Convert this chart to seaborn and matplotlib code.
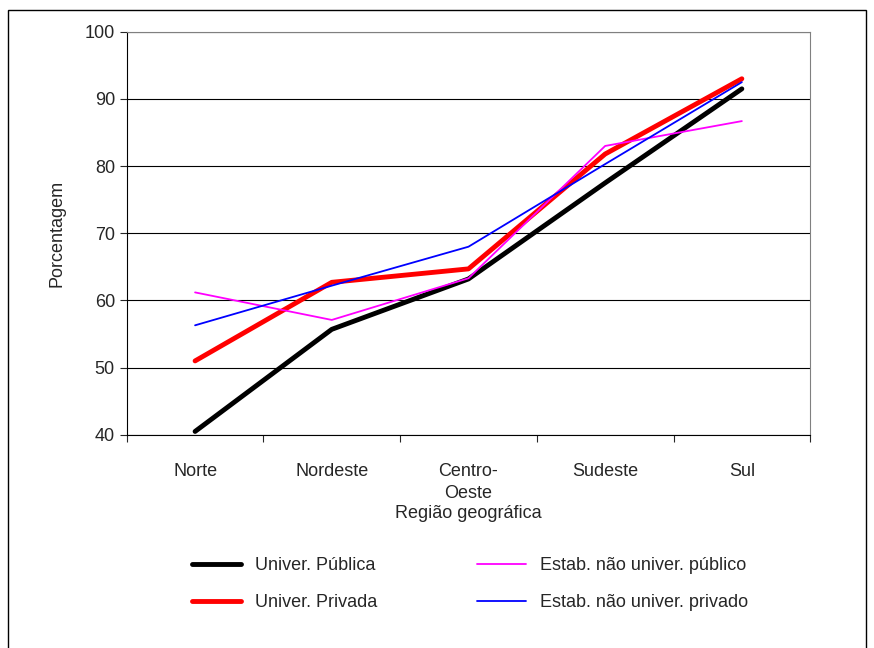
import numpy as np
import pandas as pd
import seaborn as sns
import matplotlib
matplotlib.use("Agg")
import matplotlib.pyplot as plt
from matplotlib.patches import Rectangle

regioes = ["Norte", "Nordeste", "Centro-\nOeste", "Sudeste", "Sul"]
univ_publica = [40.5, 55.7, 63.2, 77.5, 91.5]
univ_privada = [51.0, 62.7, 64.7, 81.8, 93.0]
estab_publico = [61.2, 57.1, 63.3, 83.0, 86.7]
estab_privado = [56.3, 62.2, 68.0, 80.3, 92.5]

series = {
    "Univer. Pública": univ_publica,
    "Univer. Privada": univ_privada,
    "Estab. não univer. público": estab_publico,
    "Estab. não univer. privado": estab_privado,
}
cores = {
    "Univer. Pública": "#000000",
    "Univer. Privada": "#ff0000",
    "Estab. não univer. público": "#ff00ff",
    "Estab. não univer. privado": "#0000ff",
}
larguras = {
    "Univer. Pública": 3.5,
    "Univer. Privada": 3.5,
    "Estab. não univer. público": 1.3,
    "Estab. não univer. privado": 1.3,
}

df = pd.DataFrame([
    {"x": i, "serie": nome, "valor": v}
    for nome, vals in series.items() for i, v in enumerate(vals)
])

sns.set_style("white")
plt.rcParams["font.family"] = ["Liberation Sans", "DejaVu Sans"]

fig = plt.figure(figsize=(8.74, 6.48), dpi=100)
ax = fig.add_axes([0.145, 0.329, 0.782, 0.622])

for nome in series:
    sub = df[df["serie"] == nome]
    sns.lineplot(data=sub, x="x", y="valor", ax=ax, color=cores[nome],
                 lw=larguras[nome], label=nome, legend=False)

ax.set_xlim(-0.5, 4.5)
ax.set_ylim(40, 100)
ax.set_yticks(range(40, 101, 10))
ax.yaxis.grid(True, color="black", lw=0.8)
ax.set_xticks(np.arange(-0.5, 4.6, 1))
ax.set_xticklabels([])
ax.set_xticks(range(5), minor=True)
ax.set_xticklabels(regioes, minor=True, fontsize=13, linespacing=1.4)
ax.tick_params(axis="x", which="minor", length=0, pad=20)
ax.tick_params(axis="x", which="major", length=5, direction="out", bottom=True)
ax.tick_params(axis="y", length=5, direction="out", left=True, labelsize=13)
for s in ax.spines.values():
    s.set_color("#808080")
ax.spines["left"].set_color("black")
ax.spines["bottom"].set_color("black")
ax.set_xlabel("Região geográfica", fontsize=13, labelpad=2)
ax.set_ylabel("Porcentagem", fontsize=13, labelpad=14)

handles, labels = ax.get_legend_handles_labels()
fig.legend(handles, labels, ncol=2, loc="upper center",
           bbox_to_anchor=(0.538, 0.165), frameon=False, fontsize=13,
           handlelength=2.7, columnspacing=5.5, labelspacing=1.1)

fig.add_artist(Rectangle((0.009, -0.01), 0.982, 0.995, transform=fig.transFigure,
                         fill=False, edgecolor="black", lw=1))

fig.savefig("out.png", dpi=100)
